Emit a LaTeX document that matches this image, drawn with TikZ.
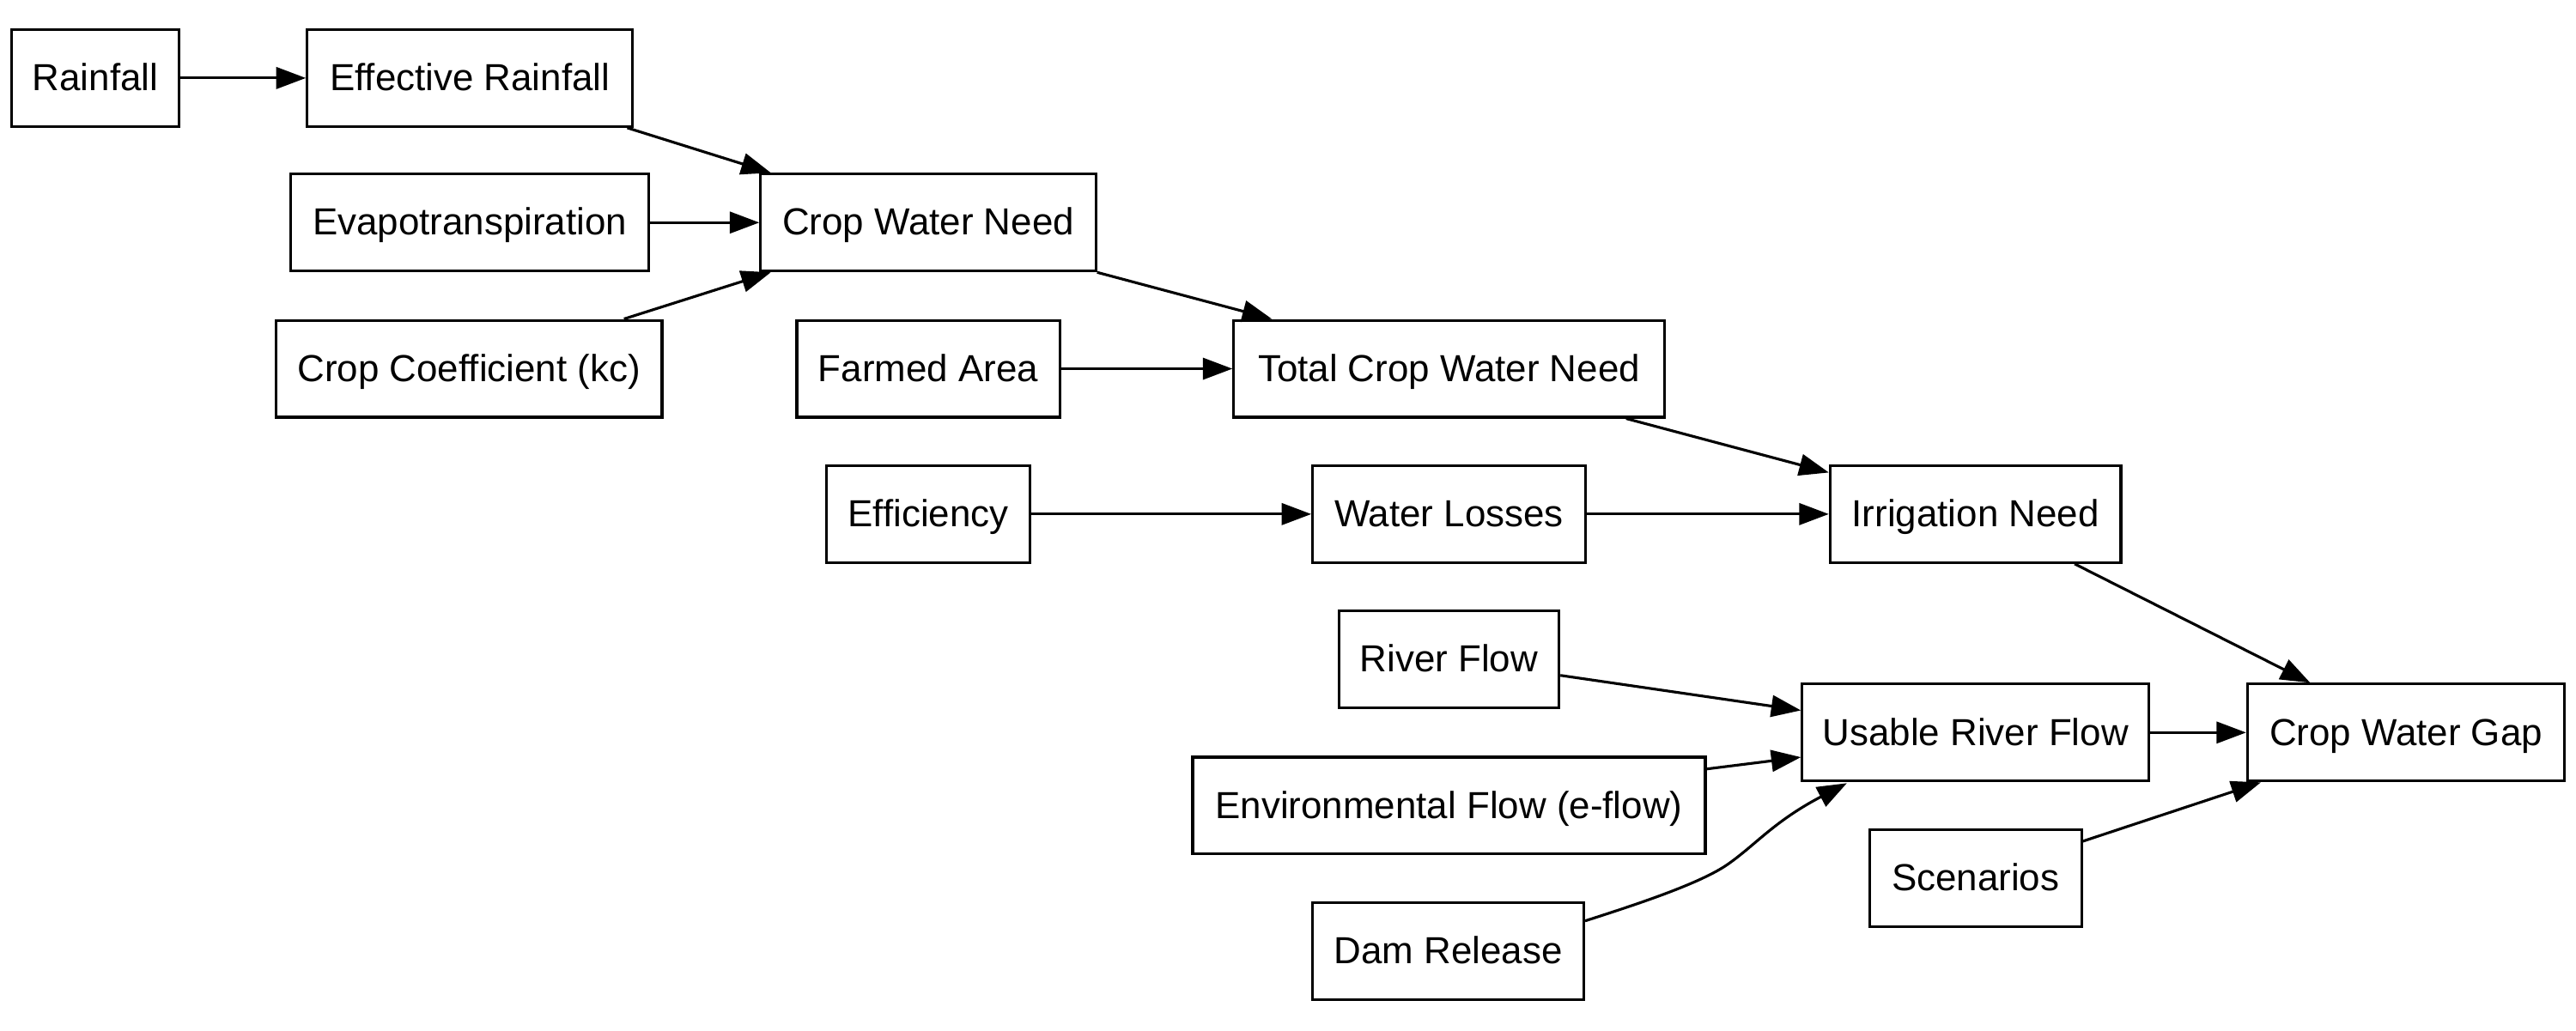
\documentclass[tikz,border=0pt]{standalone}
\usepackage{fontspec}
\setmainfont{Liberation Sans}
\usetikzlibrary{arrows.meta,calc}
\begin{document}
\begin{tikzpicture}[x=0.6102pt,y=-0.6102pt,
  box/.style={draw=black,line width=1pt,rectangle,minimum height=36pt,inner sep=0pt,
    text height=9.4pt,text depth=0pt,
    font=\fontsize{14pt}{16pt}\selectfont,fill=white},
  bw/.style={minimum width=#1*0.6102pt},
  edge/.style={draw=black,line width=1pt,-{Triangle[length=11pt,width=8pt]}}]
\useasboundingbox[fill=white] (0,0) rectangle (1568,627.2);
% nodes
\node[box,bw=102] (rain)   at (58,47.5)    {Rainfall};
\node[box,bw=198] (effr)   at (286,47.5)   {Effective Rainfall};
\node[box,bw=218] (evap)   at (286,135.5)  {Evapotranspiration};
\node[box,bw=204] (cwn)    at (565,135.5)  {Crop Water Need};
\node[box,bw=235] (kc)     at (285.5,224.5){Crop Coefficient (kc)};
\node[box,bw=160] (farm)   at (565,224.5)  {Farmed Area};
\node[box,bw=262] (tcwn)   at (882,224.5)  {Total Crop Water Need};
\node[box,bw=124] (eff)    at (565,313)    {Efficiency};
\node[box,bw=166] (loss)   at (882,313)    {Water Losses};
\node[box,bw=177] (irr)    at (1202.5,313) {Irrigation Need};
\node[box,bw=134] (river)  at (882,401.5)  {River Flow};
\node[box,bw=211] (usable) at (1202.5,446) {Usable River Flow};
\node[box,bw=193] (gap)    at (1464.5,446) {Crop Water Gap};
\node[box,bw=312] (env)    at (882,490.5)  {Environmental Flow (e-flow)};
\node[box,bw=129] (scen)   at (1202.5,534.5){Scenarios};
\node[box,bw=165] (dam)    at (881.5,579)  {Dam Release};
% edges
\draw[edge] (rain.east) -- (effr.west);
\draw[edge] ($(effr.south east)+(-4,0)$) -- ($(cwn.north west)+(7,0)$);
\draw[edge] (evap.east) -- (cwn.west);
\draw[edge] ($(kc.north east)+(-24,0)$) -- ($(cwn.south west)+(7,0)$);
\draw[edge] (cwn.south east) -- ($(tcwn.north west)+(24,0)$);
\draw[edge] (farm.east) -- (tcwn.west);
\draw[edge] ($(tcwn.south east)+(-24,0)$) -- ($(irr.north west)+(0,5)$);
\draw[edge] (eff.east) -- (loss.west);
\draw[edge] (loss.east) -- (irr.west);
\draw[edge] ($(irr.south east)+(-29,0)$) -- ($(gap.north west)+(39,0)$);
\draw[edge] ($(river.east)+(0,9.7)$) -- ($(usable.west)+(0,-13.5)$);
\draw[edge] ($(env.north east)+(0,8)$) -- ($(usable.west)+(0,15)$);
\coordinate (dambend) at (1052,526);
\draw[edge] ($(dam.north east)+(0,12)$) .. controls (995,551) and (1035,538) .. (dambend)
  .. controls (1069,514) and (1080,500) .. ($(usable.south west)+(28,0.5)$);
\draw[edge] (usable.east) -- (gap.west);
\draw[edge] ($(scen.north east)+(0,8)$) -- ($(gap.south west)+(9,0)$);
\end{tikzpicture}
\end{document}
